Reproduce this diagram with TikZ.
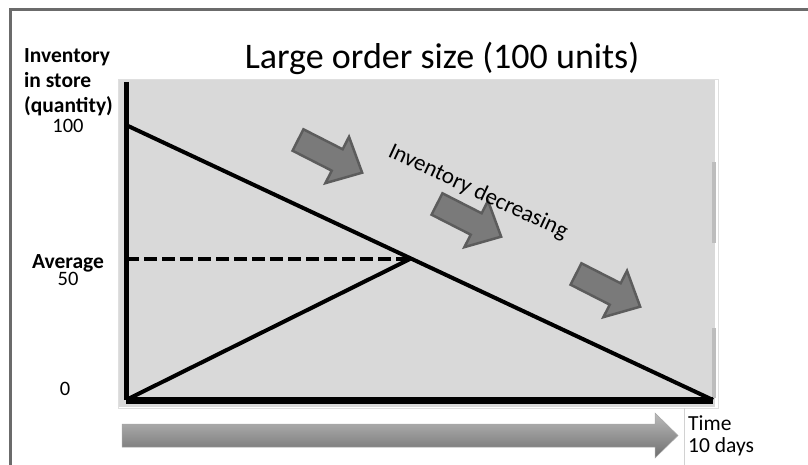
\documentclass[tikz,border=0pt]{standalone}
\usepackage{fontspec}
\setmainfont{Carlito}
\usetikzlibrary{calc}

\definecolor{panelgray}{HTML}{D9D9D9}
\definecolor{stripgray}{HTML}{BDBDBD}
\definecolor{framegray}{HTML}{6B6B6B}
\definecolor{arrowfill}{HTML}{7A7A7A}
\definecolor{arrowline}{HTML}{5C5C5C}
\definecolor{timetop}{HTML}{BBBBBB}
\definecolor{timemid}{HTML}{8E8E8E}
\definecolor{timebot}{HTML}{6E6E6E}

\begin{document}
\begin{tikzpicture}[x=1pt,y=-1pt,
  axis/.style={line width=5pt,black},
  trendline/.style={line width=4pt,black},
  blockarrow/.style={fill=arrowfill,draw=arrowline,line width=2.5pt,line join=miter},
  lbl/.style={inner sep=0pt,font=\fontsize{20.5}{24}\selectfont}]
\useasboundingbox (0,0) rectangle (808,465);

% outer frame and chart panel
\draw[framegray,line width=3pt] (10,465) -- (10,10) -- (808,10);
\fill[panelgray] (118,80) rectangle (715,407);
\draw[gray!25,line width=0.6pt] (118,79) rectangle (718,408);
\fill[stripgray] (712,162) rectangle (716,243);
\fill[stripgray] (712,328) rectangle (716,398);

% points of the chart
\coordinate (top) at (126,82);
\coordinate (origin) at (126,400);
\coordinate (full) at (126,125);
\coordinate (avgleft) at (126,259);
\coordinate (avg) at (410,259);
\coordinate (empty) at (713,400);

% axes and inventory lines
\draw[axis] (top) -- (origin);
\draw[line width=7pt,black] (origin) -- (empty);
\draw[trendline] (full) -- (empty);
\draw[trendline] (origin) -- (avg);
\draw[trendline,dash pattern=on 13pt off 5pt] (avgleft) -- (avg);

% block arrows
\foreach \ax/\ay in {298/140,437/204,576/274}{
  \begin{scope}[shift={(\ax,\ay)},rotate=-27]
    \draw[blockarrow] (0,-12) -- (44,-12) -- (44,-26) -- (72,0) -- (44,26) -- (44,12) -- (0,12) -- cycle;
  \end{scope}
};

% time arrow
\shade[top color=timetop,middle color=timemid,bottom color=timebot,draw=gray!70,line width=0.5pt]
  (122,424) -- (655,424) -- (655,413) -- (678,435.5) -- (655,458) -- (655,447) -- (122,447) -- cycle;
\draw[gray!35,line width=0.6pt] (684,408) -- (684,465);

% texts
\node[font=\fontsize{36}{40}\selectfont,inner sep=0pt,anchor=base] (title) at (442,69) {Large order size (100 units)};
\node[font=\bfseries\fontsize{21.5}{25}\selectfont,inner sep=0pt,align=left,anchor=base west] (ylabel) at (24,113)
  {Inventory\\in store\\(quantity)};
\node[lbl,anchor=base] (lbl100) at (68,133) {100};
\node[font=\bfseries\fontsize{21.5}{25}\selectfont,inner sep=0pt,anchor=base] (lblavg) at (68,268) {Average};
\node[lbl,anchor=base] (lbl50) at (68,285) {50};
\node[lbl,anchor=base] (lbl0) at (65,395) {0};
\node[font=\fontsize{21.5}{22}\selectfont,inner sep=0pt,align=left,anchor=base west] (timelbl) at (688,452) {Time\\10 days};
\node[font=\fontsize{23}{26}\selectfont,inner sep=0pt,rotate=-25] (trend) at (478,192) {Inventory decreasing};

\end{tikzpicture}
\end{document}
